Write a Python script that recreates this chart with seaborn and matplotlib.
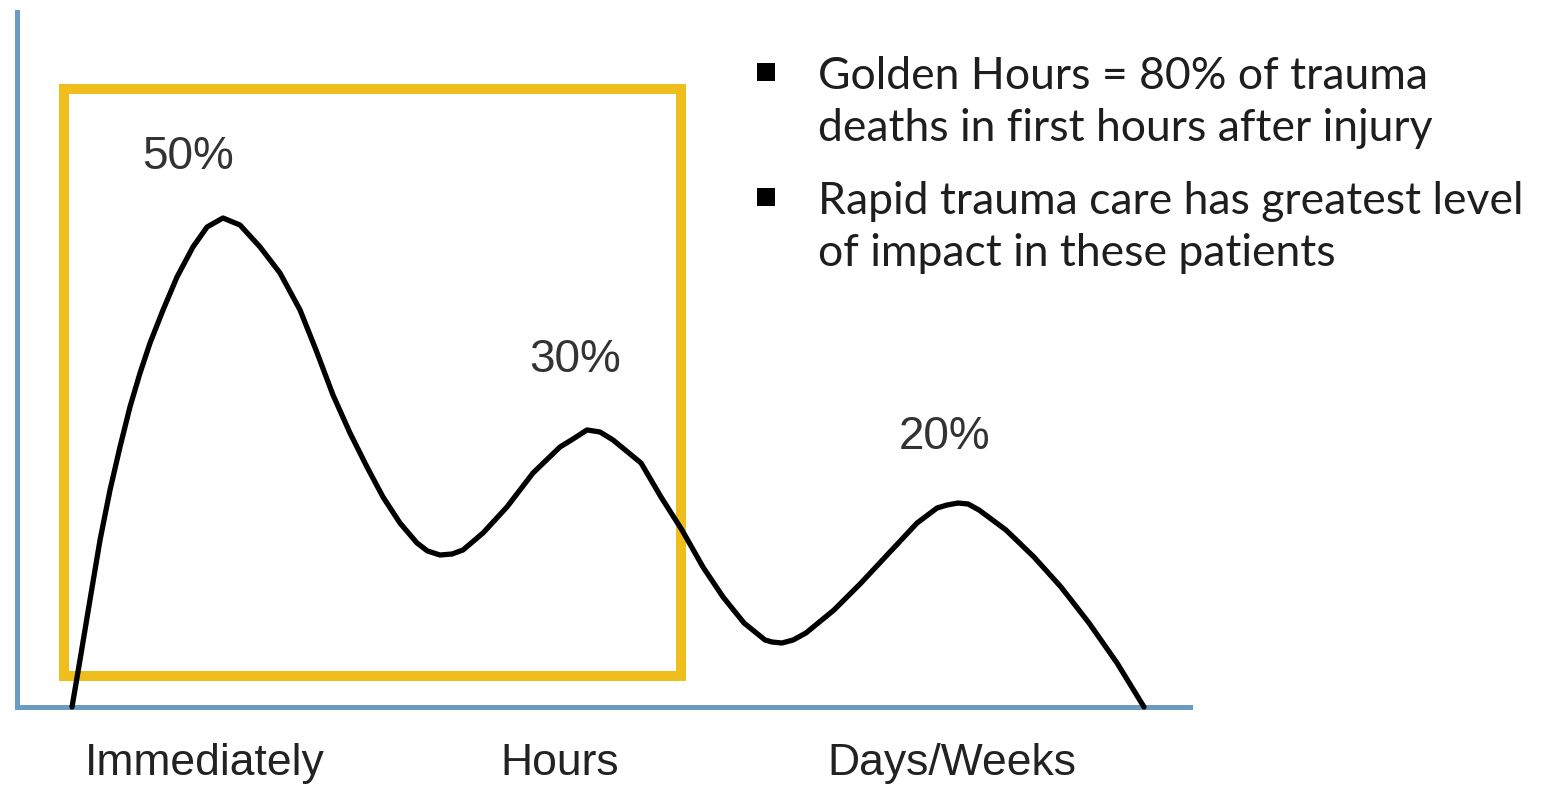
import matplotlib
matplotlib.use("Agg")
import matplotlib.pyplot as plt
import matplotlib.patches as patches
import seaborn as sns

# =========================
# 1. data
#    x: position along the time axis (0-100), y: relative death level (0-100)
# =========================
curve_x = [4.69, 5.37, 6.22, 7.08, 7.93, 8.78, 9.63, 10.49, 11.34, 12.45, 13.64,
           15.00, 16.20, 17.56, 19.01, 20.72, 22.42, 24.13, 25.49, 26.94, 28.39,
           29.84, 31.20, 32.65, 34.10, 34.99, 36.06, 37.08, 38.02, 39.73, 41.77,
           43.99, 46.29, 47.40, 48.59, 49.70, 50.81, 53.20, 54.90, 56.69, 58.48,
           60.19, 61.98, 63.77, 64.37, 65.22, 66.16, 67.26, 69.65, 71.95, 74.34,
           76.73, 78.43, 79.28, 80.22, 81.08, 82.01, 84.31, 86.70, 89.00, 91.39,
           93.78, 96.08]
curve_y = [0.00, 6.76, 15.40, 24.03, 31.22, 37.41, 43.17, 48.06, 52.37, 57.12, 61.87,
           66.19, 69.06, 70.36, 69.35, 66.19, 62.45, 57.12, 51.37, 44.89, 39.42,
           34.53, 30.22, 26.47, 23.60, 22.45, 21.87, 22.01, 22.59, 25.04, 28.78,
           33.67, 37.41, 38.56, 39.86, 39.57, 38.42, 35.11, 30.22, 25.47, 20.14,
           15.83, 12.09, 9.64, 9.35, 9.21, 9.64, 10.65, 13.96, 17.84, 22.16,
           26.47, 28.63, 29.06, 29.35, 29.21, 28.35, 25.47, 21.58, 17.27, 12.09,
           6.33, 0.00]

peak_labels = ["50%", "30%", "20%"]
peak_label_x = [14.6, 47.6, 79.1]
peak_label_y = [79.1, 49.9, 38.8]

tick_labels = ["Immediately", "Hours", "Days/Weeks"]
tick_pos = [16.0, 46.3, 79.7]

# golden hours window
box_x = [4.0, 56.6]
box_y = [4.5, 88.9]

bullets = ["Golden Hours = 80% of trauma\ndeaths in first hours after injury",
           "Rapid trauma care has greatest level\nof impact in these patients"]

axis_blue = "#6a9bc3"
box_gold = "#f0be1c"

# =========================
# 2. plot
# =========================
sns.set_style("white")
plt.rcParams["font.family"] = ["Liberation Sans", "DejaVu Sans"]

fig = plt.figure(figsize=(15.43, 7.86), dpi=100)
ax = fig.add_axes([17 / 1543, 79 / 786, 1173 / 1543, 695 / 786])

sns.lineplot(x=curve_x, y=curve_y, sort=False, estimator=None,
             color="black", linewidth=3.8, ax=ax, zorder=3)
for ln in ax.lines:
    ln.set_solid_capstyle("round")
    ln.set_solid_joinstyle("round")
    ln.set_clip_on(False)

ax.add_patch(patches.Rectangle((box_x[0], box_y[0]), box_x[1] - box_x[0], box_y[1] - box_y[0],
                               fill=False, edgecolor=box_gold, linewidth=7.2,
                               joinstyle="miter", zorder=2))

for lab, x, y in zip(peak_labels, peak_label_x, peak_label_y):
    ax.text(x, y, lab, ha="center", va="center", fontsize=33, color="#333333")

ax.set_xlim(0, 100)
ax.set_ylim(0, 100)
ax.set_xticks(tick_pos)
ax.set_xticklabels(tick_labels, fontsize=32, color="#222222")
ax.set_yticks([])
ax.tick_params(axis="x", length=0, pad=26)

for side in ["top", "right"]:
    ax.spines[side].set_visible(False)
for side in ["left", "bottom"]:
    ax.spines[side].set_color(axis_blue)
    ax.spines[side].set_linewidth(3.6)
    ax.spines[side].set_capstyle("projecting")

# bullet points on the right
bullet_top = [1 - 56 / 786, 1 - 181 / 786]
square_y = [1 - 81 / 786, 1 - 206 / 786]
for txt, ty, sy in zip(bullets, bullet_top, square_y):
    fig.patches.append(patches.Rectangle((757 / 1543, sy), 18 / 1543, 18 / 786,
                                         transform=fig.transFigure, facecolor="black",
                                         edgecolor="none"))
    fig.text(818 / 1543, ty, txt, ha="left", va="top", fontsize=32,
             family=["Lato", "DejaVu Sans"], color="#1e1e1e", linespacing=1.32)

plt.savefig("out.png", dpi=100)
